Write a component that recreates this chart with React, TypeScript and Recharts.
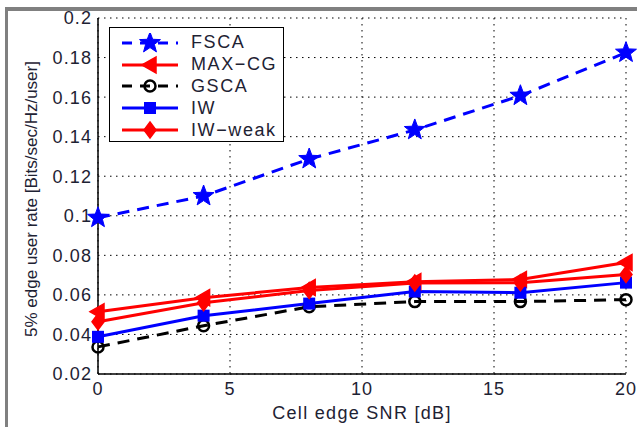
import React from 'react';
import { LineChart, Line, XAxis, YAxis, CartesianGrid, Legend } from 'recharts';

const snr = [0, 4, 8, 12, 16, 20];
const fsca = [0.099, 0.11, 0.1287, 0.1434, 0.1607, 0.1825];
const maxCg = [0.0515, 0.0586, 0.0637, 0.0667, 0.0678, 0.0764];
const iwWeak = [0.0464, 0.056, 0.0622, 0.066, 0.0662, 0.0703];
const iw = [0.0388, 0.0495, 0.0556, 0.0617, 0.0611, 0.0662];
const gsca = [0.0337, 0.0444, 0.054, 0.0566, 0.0566, 0.0576];

const xTicks = [0, 5, 10, 15, 20];
const yTicks = [0.02, 0.04, 0.06, 0.08, 0.1, 0.12, 0.14, 0.16, 0.18, 0.2];

const data = snr.map((s, i) => ({
  snr: s,
  fsca: fsca[i],
  maxCg: maxCg[i],
  gsca: gsca[i],
  iw: iw[i],
  iwWeak: iwWeak[i],
}));

const FONT = 'Liberation Sans, Arial, sans-serif';
const TEXT = '#1e2233';

const starPoints = (cx: number, cy: number, ro: number, ri: number) => {
  const pts: string[] = [];
  for (let k = 0; k < 10; k++) {
    const r = k % 2 === 0 ? ro : ri;
    const a = -Math.PI / 2 + (k * Math.PI) / 5;
    pts.push(`${cx + r * Math.cos(a)},${cy + r * Math.sin(a)}`);
  }
  return pts.join(' ');
};

const Marker = ({ kind, cx, cy }: { kind: string; cx: number; cy: number }) => {
  switch (kind) {
    case 'star':
      return <polygon points={starPoints(cx, cy, 11, 4.6)} fill="#0000ff" stroke="#0000ff" strokeWidth={1} />;
    case 'tri':
      return <polygon points={`${cx - 8},${cy} ${cx + 6},${cy - 8} ${cx + 6},${cy + 8}`} fill="#ff0000" stroke="#ff0000" strokeWidth={1.5} />;
    case 'circle':
      return <circle cx={cx} cy={cy} r={5.5} fill="none" stroke="#000" strokeWidth={2.5} />;
    case 'square':
      return <rect x={cx - 6} y={cy - 6} width={12} height={12} fill="#0000ff" />;
    case 'diamond':
      return <polygon points={`${cx},${cy - 8} ${cx + 6},${cy} ${cx},${cy + 8} ${cx - 6},${cy}`} fill="#ff0000" stroke="#ff0000" strokeWidth={1.5} />;
    default:
      return null;
  }
};

const dotOf = (kind: string) => (p: any) => (
  <g key={`${kind}-${p.index}`}>
    <Marker kind={kind} cx={p.cx} cy={p.cy} />
  </g>
);

const series = [
  { key: 'fsca', name: 'FSCA', color: '#0000ff', dash: '12 8', marker: 'star' },
  { key: 'maxCg', name: 'MAX\u2212CG', color: '#ff0000', dash: undefined, marker: 'tri' },
  { key: 'gsca', name: 'GSCA', color: '#000000', dash: '12 8', marker: 'circle' },
  { key: 'iw', name: 'IW', color: '#0000ff', dash: undefined, marker: 'square' },
  { key: 'iwWeak', name: 'IW\u2212weak', color: '#ff0000', dash: undefined, marker: 'diamond' },
];

const LegendBox = () => (
  <div style={{ background: '#fff', border: '1px solid #000', width: 175, height: 115, boxSizing: 'border-box', padding: '4px 0 0 0' }}>
    {series.map((s) => (
      <div key={s.key} style={{ display: 'flex', alignItems: 'center', height: 21.8 }}>
        <svg width={78} height={20} style={{ display: 'block' }}>
          <line x1={12} y1={10} x2={68} y2={10} stroke={s.color} strokeWidth={3} strokeDasharray={s.dash ? '10 8' : undefined} />
          <Marker kind={s.marker} cx={40} cy={10} />
        </svg>
        <span style={{ fontFamily: FONT, fontSize: 18, letterSpacing: 1.6, color: TEXT, marginLeft: 3, whiteSpace: 'nowrap' }}>{s.name}</span>
      </div>
    ))}
  </div>
);

const fmt = (v: number) => String(Number(v.toFixed(2)));

const tickStyle = { fill: TEXT, fontSize: 18, fontFamily: FONT, letterSpacing: 1.1 };

export default function App() {
  return (
    <div style={{ position: 'fixed', left: 0, top: 0, width: 637, height: 427, background: '#fff' }}>
      <div style={{ position: 'absolute', left: 5, top: 7, right: 0, bottom: 0, borderTop: '4px solid #808080', borderLeft: '3px solid #808080' }} />
      <div style={{ position: 'absolute', left: 0, top: 0 }}>
        <LineChart width={637} height={427} data={data} margin={{ top: 18, right: 11, left: 0, bottom: 0 }}>
          <CartesianGrid stroke="#000" strokeDasharray="1.5 4.5" strokeWidth={1} />
          <XAxis
            dataKey="snr"
            type="number"
            domain={[0, 20]}
            ticks={xTicks}
            height={53}
            tickLine={false}
            tickSize={0}
            tickMargin={8}
            axisLine={{ stroke: '#000', strokeWidth: 1.5 }}
            tick={tickStyle}
            label={{ value: 'Cell edge SNR [dB]', position: 'insideBottom', offset: 8, fill: TEXT, fontSize: 18, fontFamily: FONT, style: { letterSpacing: 1.3 } }}
          />
          <XAxis xAxisId="top" orientation="top" dataKey="snr" type="number" domain={[0, 20]} height={0} tick={false} tickLine={false} axisLine={{ stroke: '#000', strokeWidth: 1.5 }} />
          <YAxis
            type="number"
            domain={[0.02, 0.2]}
            ticks={yTicks}
            width={98}
            tickLine={false}
            tickSize={0}
            tickMargin={6}
            tickFormatter={fmt}
            axisLine={{ stroke: '#000', strokeWidth: 1.5 }}
            tick={tickStyle}
            label={{
              content: (p: any) => {
                const vb = p.viewBox;
                const x = vb.x + 33;
                const y = vb.y + vb.height / 2 + 3;
                return (
                  <text x={x} y={y} transform={`rotate(-90 ${x} ${y})`} textAnchor="middle" dominantBaseline="middle" fill={TEXT} fontSize={17} fontFamily={FONT}>
                    5% edge user rate [Bits/sec/Hz/user]
                  </text>
                );
              },
            }}
          />
          <YAxis yAxisId="right" orientation="right" type="number" domain={[0.02, 0.2]} width={0} tick={false} tickLine={false} axisLine={{ stroke: '#000', strokeWidth: 1.5 }} />
          <Legend content={<LegendBox />} layout="vertical" align="center" verticalAlign="middle" wrapperStyle={{ left: 109, top: 27, width: 175 }} />
          {series.map((s) => (
            <Line
              key={s.key}
              dataKey={s.key}
              name={s.name}
              stroke={s.color}
              strokeWidth={3}
              strokeDasharray={s.dash}
              dot={dotOf(s.marker)}
              activeDot={false}
              isAnimationActive={false}
            />
          ))}
        </LineChart>
      </div>
    </div>
  );
}
